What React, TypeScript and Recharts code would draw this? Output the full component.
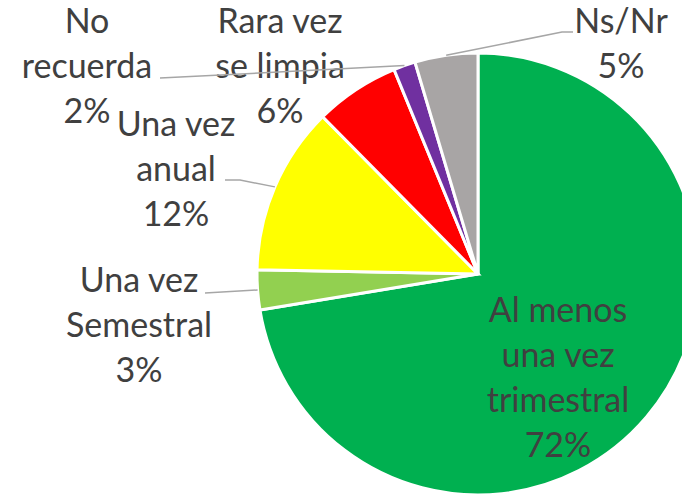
import React from "react";
import { PieChart, Pie, Cell } from "recharts";

const categories: string[] = [
  "Al menos\nuna vez\ntrimestral",
  "Una vez\nSemestral",
  "Una vez\nanual",
  "Rara vez\nse limpia",
  "No\nrecuerda",
  "Ns/Nr",
];
const values: number[] = [72.4, 2.9, 12.3, 6.2, 1.6, 4.6];
const COLORS: string[] = ["#00B050", "#92D050", "#FFFF00", "#FF0000", "#7030A0", "#A8A5A5"];

const pieData = categories.map((name, i) => ({ name, value: values[i] }));

// label placement (text centre x, first baseline y, optional leader line end)
interface LabelLayout {
  x: number;
  y: number;
  line?: { x: number; y: number; elbow?: { x: number; y: number } };
}
const LAYOUT: LabelLayout[] = [
  { x: 558, y: 322 },
  { x: 139, y: 292, line: { x: 205, y: 293 } },
  { x: 176, y: 136, line: { x: 225, y: 180, elbow: { x: 240, y: 180 } } },
  { x: 280, y: 33 },
  { x: 87, y: 33, line: { x: 160, y: 78 } },
  { x: 621, y: 33, line: { x: 573, y: 32, elbow: { x: 562, y: 32 } } },
];

const RADIAN = Math.PI / 180;
const LINE_H = 45;

const renderLabel = (props: any) => {
  const { cx, cy, midAngle, outerRadius, index, percent, name } = props;
  const lay = LAYOUT[index];
  const lines: string[] = [...String(name).split("\n"), `${Math.round(percent * 100)}%`];
  let leader = null;
  if (lay.line) {
    const sx = cx + outerRadius * Math.cos(-midAngle * RADIAN);
    const sy = cy + outerRadius * Math.sin(-midAngle * RADIAN);
    const pts = [`${sx},${sy}`];
    if (lay.line.elbow) pts.push(`${lay.line.elbow.x},${lay.line.elbow.y}`);
    pts.push(`${lay.line.x},${lay.line.y}`);
    leader = <polyline points={pts.join(" ")} fill="none" stroke="#A6A6A6" strokeWidth={1.5} />;
  }
  return (
    <g key={`lbl-${index}`}>
      {leader}
      <text
        x={lay.x}
        y={lay.y}
        textAnchor="middle"
        fill="#404040"
        fontFamily="Lato, 'Open Sans', sans-serif"
        fontSize={34}
      >
        {lines.map((l, i) => (
          <tspan key={i} x={lay.x} y={lay.y + i * LINE_H}>
            {l}
          </tspan>
        ))}
      </text>
    </g>
  );
};

const App: React.FC = () => (
  <div style={{ position: "absolute", left: 0, top: 0, width: 682, height: 495, overflow: "hidden", background: "#fff" }}>
    <PieChart width={682} height={495} margin={{ top: 0, right: 0, bottom: 0, left: 0 }}>
      <Pie
        data={pieData}
        dataKey="value"
        nameKey="name"
        cx={478}
        cy={274}
        outerRadius={221}
        startAngle={90}
        endAngle={-270}
        stroke="#FFFFFF"
        strokeWidth={3}
        label={renderLabel}
        labelLine={false}
        isAnimationActive={false}
      >
        {pieData.map((_, i) => (
          <Cell key={`cell-${i}`} fill={COLORS[i]} />
        ))}
      </Pie>
    </PieChart>
  </div>
);

export default App;
